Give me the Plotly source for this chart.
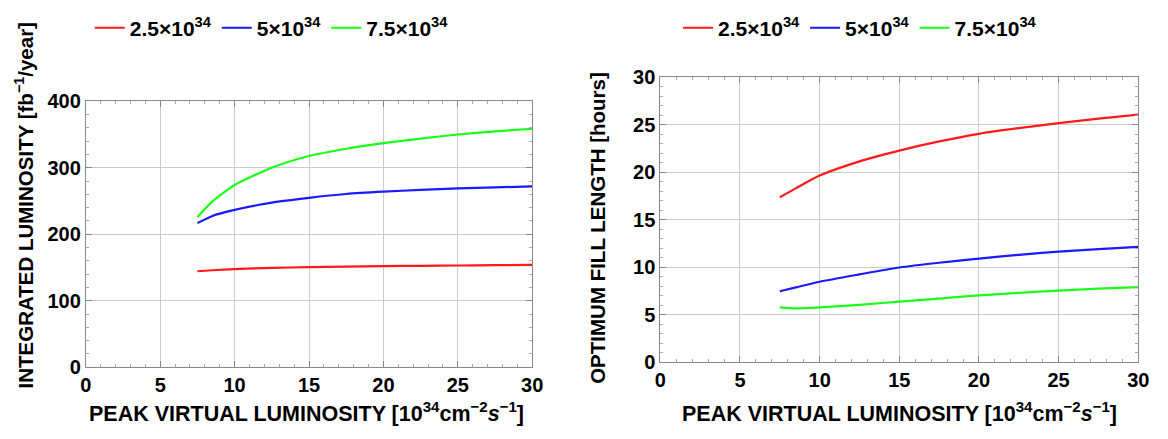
import plotly.graph_objects as go

# ---- data ----
peak_lumi = [7.5, 8.5, 10, 12.5, 15, 17.5, 20, 22.5, 25, 27.5, 30]
series_names = ["2.5×10<sup>34</sup>", "5×10<sup>34</sup>", "7.5×10<sup>34</sup>"]
series_colors = ["#ff1a1a", "#1a1aff", "#1aff1a"]

int_lumi_25 = [144.3, 145.8, 147.6, 149.3, 150.5, 151.3, 152.0, 152.5, 153.0, 153.4, 153.8]
int_lumi_50 = [216.7, 227.5, 236.6, 247.6, 254.8, 260.5, 264.0, 266.6, 269.0, 270.5, 271.9]
int_lumi_75 = [226.0, 249.0, 274.0, 300.0, 317.6, 328.6, 337.0, 343.8, 350.0, 354.8, 358.6]

fill_25 = [17.4, 18.33, 19.67, 21.17, 22.3, 23.27, 24.07, 24.67, 25.2, 25.67, 26.1]
fill_50 = [7.5, 7.9, 8.5, 9.27, 10.0, 10.5, 10.93, 11.33, 11.67, 11.93, 12.17]
fill_75 = [5.8, 5.7, 5.8, 6.07, 6.4, 6.73, 7.07, 7.33, 7.57, 7.77, 7.93]

x_ticks = [0, 5, 10, 15, 20, 25, 30]
left_y_ticks = [0, 100, 200, 300, 400]
right_y_ticks = [0, 5, 10, 15, 20, 25, 30]

FONT = "Liberation Sans"

fig = go.Figure()

for name, col, ys in zip(series_names, series_colors, [int_lumi_25, int_lumi_50, int_lumi_75]):
    fig.add_trace(go.Scatter(x=peak_lumi, y=ys, mode="lines", name=name,
                             line=dict(color=col, width=2.2, shape="spline", smoothing=0.6),
                             xaxis="x", yaxis="y", legend="legend"))
for name, col, ys in zip(series_names, series_colors, [fill_25, fill_50, fill_75]):
    fig.add_trace(go.Scatter(x=peak_lumi, y=ys, mode="lines", name=name,
                             line=dict(color=col, width=2.2, shape="spline", smoothing=0.6),
                             xaxis="x2", yaxis="y2", legend="legend2"))

tickfont = dict(family=FONT, size=20, color="black", weight="bold")

def xaxis(domain, anchor):
    return dict(domain=domain, anchor=anchor, range=[0, 30], tickvals=x_ticks,
                ticks="inside", ticklen=6, tickcolor="#888", mirror="allticks",
                showline=True, linecolor="#888", linewidth=1,
                showgrid=True, gridcolor="#cccccc", gridwidth=1,
                minor=dict(dtick=1, ticks="inside", ticklen=3, tickcolor="#aaa", showgrid=False),
                tickfont=tickfont, zeroline=False, fixedrange=True)

def yaxis(domain, anchor, rng, vals, mdt):
    return dict(domain=domain, anchor=anchor, range=rng, tickvals=vals,
                ticks="inside", ticklen=6, tickcolor="#888", mirror="allticks",
                showline=True, linecolor="#888", linewidth=1,
                showgrid=True, gridcolor="#cccccc", gridwidth=1,
                minor=dict(dtick=mdt, ticks="inside", ticklen=3, tickcolor="#aaa", showgrid=False),
                tickfont=tickfont, zeroline=False, fixedrange=True)

leg_common = dict(orientation="h", font=dict(family=FONT, size=21, color="black", weight="bold"),
                  bgcolor="rgba(0,0,0,0)", yanchor="middle", xanchor="left",
                  itemwidth=30, tracegroupgap=0)

fig.update_layout(
    width=1168, height=439,
    margin=dict(l=0, r=0, t=0, b=0),
    paper_bgcolor="white", plot_bgcolor="white",
    xaxis=xaxis([81/1168, 534/1168], "y"),
    yaxis=yaxis([1-375/439, 1-95/439], "x", [0, 400], left_y_ticks, 20),
    xaxis2=xaxis([664/1168, 1149/1168], "y2"),
    yaxis2=yaxis([1-370/439, 1-70/439], "x2", [0, 30], right_y_ticks, 1),
    legend=dict(x=85/1168, y=1-18/439, **leg_common),
    legend2=dict(x=682/1168, y=1-18/439, **leg_common),
    showlegend=True,
)

title_font = dict(family=FONT, size=21.5, color="black", weight="bold")
ytitle_font = dict(family=FONT, size=20.5, color="black", weight="bold")
xtitle = "PEAK VIRTUAL LUMINOSITY [10<sup>34</sup>cm<sup>−2</sup><i>s</i><sup>−1</sup>]"
fig.add_annotation(text=xtitle, xref="paper", yref="paper", x=305/1168, y=1-422/439,
                   showarrow=False, font=title_font, xanchor="center", yanchor="middle")
fig.add_annotation(text=xtitle, xref="paper", yref="paper", x=907/1168, y=1-422/439,
                   showarrow=False, font=title_font, xanchor="center", yanchor="middle")
fig.add_annotation(text="INTEGRATED LUMINOSITY [fb<sup>−1</sup>/year]", xref="paper", yref="paper",
                   x=18/1168, y=1-205/439, textangle=-90,
                   showarrow=False, font=ytitle_font, xanchor="center", yanchor="middle")
fig.add_annotation(text="OPTIMUM FILL LENGTH [hours]", xref="paper", yref="paper",
                   x=600/1168, y=1-228/439, textangle=-90,
                   showarrow=False, font=ytitle_font, xanchor="center", yanchor="middle")

fig.write_html("out.html")
